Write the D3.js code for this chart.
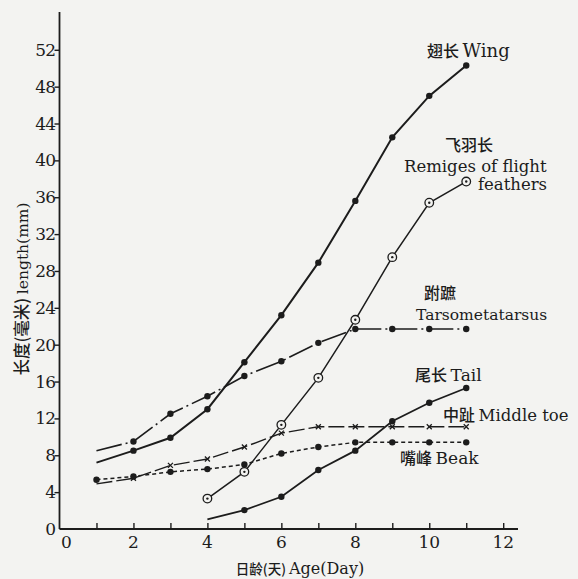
<!DOCTYPE html>
<html><head><meta charset="utf-8">
<script src="https://cdn.jsdelivr.net/npm/d3@7"></script>
<style>
html,body{margin:0;padding:0;background:#f3f3f1;}
svg{display:block;}
</style></head>
<body>
<script>
const days = [1,2,3,4,5,6,7,8,9,10,11];
const lateDays = [4,5,6,7,8,9,10,11];
const wing = [7.2, 8.5, 9.9, 13.0, 18.1, 23.2, 28.9, 35.6, 42.5, 47.0, 50.3];
const tarsometatarsus = [8.5, 9.5, 12.5, 14.4, 16.6, 18.2, 20.2, 21.7, 21.7, 21.7, 21.7];
const remiges = [3.3, 6.2, 11.3, 16.4, 22.7, 29.5, 35.4, 37.7];
const middleToe = [4.9, 5.5, 6.9, 7.6, 8.9, 10.4, 11.1, 11.1, 11.1, 11.1, 11.1];
const beak = [5.35, 5.7, 6.2, 6.5, 7.0, 8.2, 8.9, 9.4, 9.4, 9.4, 9.4];
const tail = [1.05, 2.05, 3.5, 6.4, 8.5, 11.7, 13.7, 15.3];
const xTickLabels = [0,2,4,6,8,10,12];
const yTickLabels = [0,4,8,12,16,20,24,28,32,36,40,44,48,52];

const W = 578, H = 579;
const ink = "#1c1c1c";
const serif = "'DejaVu Serif','Liberation Serif',serif";
const cjk = "'Noto Sans CJK SC','Noto Sans CJK TC',sans-serif";

const svg = d3.select("body").append("svg").attr("width", W).attr("height", H);
svg.append("rect").attr("width", W).attr("height", H).attr("fill", "#f3f3f1");

const x = d3.scaleLinear().domain([0, 12.4]).range([59.5, 518]);
const y = d3.scaleLinear().domain([0, 56.1]).range([529, 12]);

// axes
const xAxis = d3.axisBottom(x).tickValues(d3.range(1, 13)).tickSize(-6).tickFormat("");
const gx = svg.append("g").attr("transform", "translate(0,529)").call(xAxis);
gx.select(".domain").attr("d", `M${x(0)},0H518`).attr("stroke", ink).attr("stroke-width", 1.8);
gx.selectAll(".tick line").attr("stroke", ink).attr("stroke-width", 1.4);

const yAxis = d3.axisLeft(y).tickValues(yTickLabels.slice(1)).tickSize(5).tickFormat("");
const gy = svg.append("g").attr("transform", `translate(${x(0)},0)`).call(yAxis);
gy.select(".domain").attr("d", `M0,${y(0)}V12`).attr("stroke", ink).attr("stroke-width", 1.8);
gy.selectAll(".tick line").attr("stroke", ink).attr("stroke-width", 1.4);

// tick labels
svg.append("g").selectAll("text").data(xTickLabels).join("text")
  .attr("x", d => d === 0 ? x(d) + 7 : x(d))
  .attr("y", 548).attr("text-anchor", "middle")
  .attr("font-family", serif).attr("font-size", 17).attr("fill", ink)
  .text(d => d);
svg.append("g").selectAll("text").data(yTickLabels).join("text")
  .attr("x", 55).attr("y", d => y(d) + 6).attr("text-anchor", "end")
  .attr("font-family", serif).attr("font-size", 17).attr("fill", ink)
  .attr("letter-spacing", -1)
  .text(d => d);

// axis titles
const yt = svg.append("text").attr("transform", "translate(28,289) rotate(-90)")
  .attr("text-anchor", "middle").attr("fill", ink);
yt.append("tspan").attr("font-family", cjk).attr("font-size", 16.5).attr("font-weight", 500).text("长度(毫米) ");
yt.append("tspan").attr("font-family", serif).attr("font-size", 15.5).text("length(mm)");

const xt = svg.append("text").attr("x", 300).attr("y", 574).attr("text-anchor", "middle").attr("fill", ink);
xt.append("tspan").attr("font-family", cjk).attr("font-size", 13.5).attr("font-weight", 500).text("日龄(天) ");
xt.append("tspan").attr("font-family", serif).attr("font-size", 16).text("Age(Day)");

// series
function pts(xs, ys) { return xs.map((d, i) => [d, ys[i]]); }
const line = d3.line().x(d => x(d[0])).y(d => y(d[1]));

const series = [
  {data: pts(days, wing), dash: null, width: 2, marker: "dot", from: 1},
  {data: pts(days, tarsometatarsus), dash: "26,4,2,4", width: 1.6, marker: "dot", from: 1},
  {data: pts(lateDays, remiges), dash: null, width: 1.5, marker: "ring", from: 0},
  {data: pts(days, middleToe), dash: "16,4", width: 1.4, marker: "x", from: 1},
  {data: pts(days, beak), dash: "4,3", width: 1.5, marker: "dot", from: 0},
  {data: pts(lateDays, tail), dash: null, width: 1.8, marker: "dot", from: 1}
];

series.forEach(s => {
  svg.append("path").attr("d", line(s.data)).attr("fill", "none")
    .attr("stroke", ink).attr("stroke-width", s.width)
    .attr("stroke-dasharray", s.dash);
  const m = s.data.slice(s.from);
  const g = svg.append("g");
  if (s.marker === "dot") {
    g.selectAll("circle").data(m).join("circle")
      .attr("cx", d => x(d[0])).attr("cy", d => y(d[1])).attr("r", 3.2).attr("fill", ink);
  } else if (s.marker === "ring") {
    g.selectAll("circle.o").data(m).join("circle").attr("class", "o")
      .attr("cx", d => x(d[0])).attr("cy", d => y(d[1])).attr("r", 4.3)
      .attr("fill", "#f3f3f1").attr("stroke", ink).attr("stroke-width", 1.3);
    g.selectAll("circle.i").data(m).join("circle").attr("class", "i")
      .attr("cx", d => x(d[0])).attr("cy", d => y(d[1])).attr("r", 1.2).attr("fill", ink);
  } else if (s.marker === "x") {
    g.selectAll("path").data(m).join("path")
      .attr("d", d => { const cx = x(d[0]), cy = y(d[1]); return `M${cx-2.5},${cy-2.5}L${cx+2.5},${cy+2.5}M${cx+2.5},${cy-2.5}L${cx-2.5},${cy+2.5}`; })
      .attr("stroke", ink).attr("stroke-width", 1.3);
  }
});

// annotations
function label(xp, yp, parts, latinSize) {
  const t = svg.append("text").attr("x", xp).attr("y", yp).attr("fill", ink);
  parts.forEach(p => t.append("tspan").attr("font-family", p[1] ? cjk : serif)
    .attr("font-weight", p[1] ? 500 : 400)
    .attr("font-size", p[1] ? 16 : (latinSize || 16.5)).text(p[0]));
}
label(427, 57, [["翅长 ", 1], ["Wing", 0]], 18);
label(445, 151, [["飞羽长", 1]]);
label(404, 172, [["Remiges of flight", 0]]);
label(478, 190, [["feathers", 0]]);
label(424, 299, [["跗蹠", 1]]);
label(416, 320, [["Tarsometatarsus", 0]], 15.5);
label(415, 381, [["尾长 ", 1], ["Tail", 0]], 17);
label(443, 421, [["中趾 ", 1], ["Middle toe", 0]], 16.5);
label(400, 464, [["嘴峰 ", 1], ["Beak", 0]], 17);
</script>
</body></html>
